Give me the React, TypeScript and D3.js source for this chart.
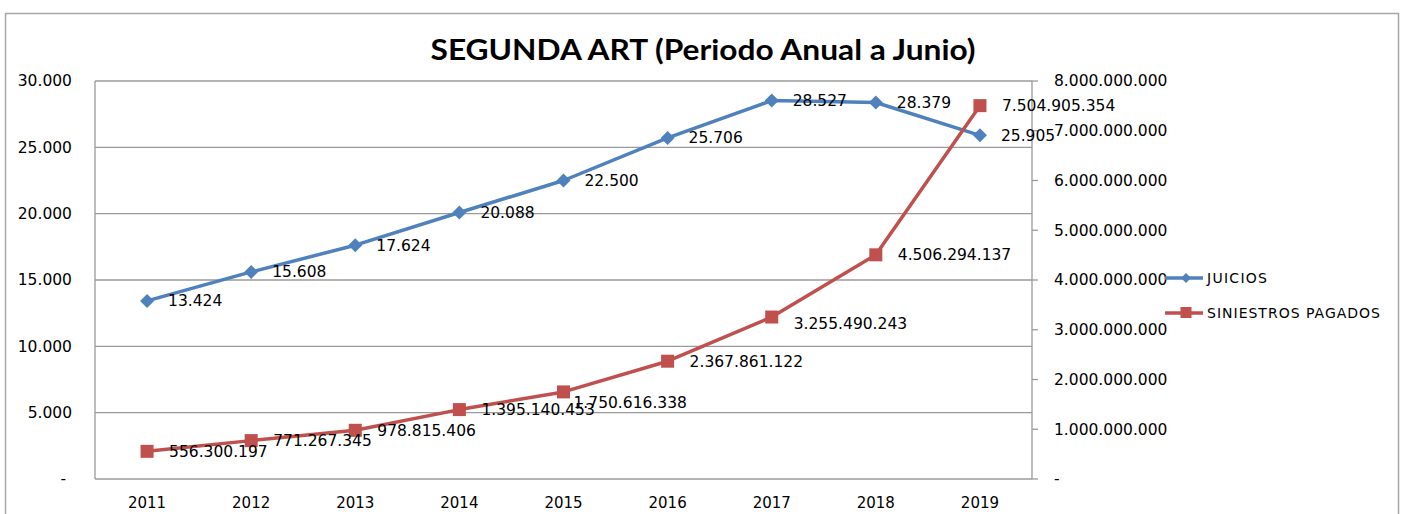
import * as d3 from "d3";

const YEARS = ["2011", "2012", "2013", "2014", "2015", "2016", "2017", "2018", "2019"];
const JUICIOS = [13424, 15608, 17624, 20088, 22500, 25706, 28527, 28379, 25905];
const SINIESTROS = [
  556300197, 771267345, 978815406, 1395140453, 1750616338, 2367861122, 3255490243, 4506294137,
  7504905354,
];
const LEFT_TICKS = [0, 5000, 10000, 15000, 20000, 25000, 30000];
const RIGHT_TICKS = [0, 1e9, 2e9, 3e9, 4e9, 5e9, 6e9, 7e9, 8e9];

const W = 1405;
const H = 514;
const FONT = "'DejaVu Sans', Verdana, sans-serif";
const BLUE = "#4F81BD";
const RED = "#C0504D";
const GRID = "#9a9a9a";
const FS = 15.5;

const mg = { l: 95, r: 1032, t: 81, b: 479 };

// excel movió algunas etiquetas para que no se pisen
const NUDGE_R: Record<string, [number, number]> = { "2015": [-12, 11], "2017": [0, 7] };

const fmt = (v: number) => (v === 0 ? "-" : d3.format(",")(v).replace(/,/g, "."));

export default function App() {
  const x = d3.scaleBand().domain(YEARS).range([mg.l, mg.r]);
  const cx = (yr: string) => (x(yr) ?? 0) + x.bandwidth() / 2;
  const yL = d3.scaleLinear().domain([0, 30000]).range([mg.b, mg.t]);
  const yR = d3.scaleLinear().domain([0, 8e9]).range([mg.b, mg.t]);

  const lineL = d3
    .line<number>()
    .x((_, i) => cx(YEARS[i]))
    .y((d) => yL(d));
  const lineR = d3
    .line<number>()
    .x((_, i) => cx(YEARS[i]))
    .y((d) => yR(d));

  const diamond = (px: number, py: number, s: number) =>
    `M${px},${py - s}L${px + s},${py}L${px},${py + s}L${px - s},${py}Z`;

  return (
    <svg
      width={W}
      height={H}
      style={{ position: "absolute", left: 0, top: 0, background: "#fff" }}
      fontFamily={FONT}
    >
      <rect x={0} y={0} width={W} height={H} fill="#fff" />
      <rect x={5.5} y={13.5} width={1393} height={520} fill="none" stroke="#a6a6a6" strokeWidth={1.5} />

      <text
        x={703}
        y={60}
        textAnchor="middle"
        fontFamily="Lato, 'Open Sans', sans-serif"
        fontWeight={700}
        fontSize={28}
        fill="#000"
        textLength={545}
        lengthAdjust="spacingAndGlyphs"
      >
        SEGUNDA ART (Periodo Anual a Junio)
      </text>

      {/* grilla */}
      {LEFT_TICKS.map((t) => (
        <line key={t} x1={mg.l} x2={mg.r} y1={yL(t)} y2={yL(t)} stroke={GRID} strokeWidth={1.3} />
      ))}
      <line x1={mg.l} x2={mg.l} y1={mg.t} y2={mg.b} stroke={GRID} strokeWidth={1.3} />
      <line x1={mg.r} x2={mg.r} y1={mg.t} y2={mg.b} stroke={GRID} strokeWidth={1.3} />
      {RIGHT_TICKS.map((t) => (
        <line key={t} x1={mg.r} x2={mg.r + 6} y1={yR(t)} y2={yR(t)} stroke={GRID} strokeWidth={1.3} />
      ))}

      {/* eje izquierdo */}
      {LEFT_TICKS.map((t) => (
        <text
          key={t}
          x={t === 0 ? 66 : 72}
          y={yL(t)}
          dy="0.35em"
          textAnchor="end"
          fontSize={FS}
          fill="#000"
        >
          {fmt(t)}
        </text>
      ))}
      {/* eje derecho */}
      {RIGHT_TICKS.map((t) => (
        <text key={t} x={1054} y={yR(t)} dy="0.35em" textAnchor="start" fontSize={FS} fill="#000">
          {fmt(t)}
        </text>
      ))}
      {/* años */}
      {YEARS.map((yr) => (
        <text key={yr} x={cx(yr)} y={503} dy="0.35em" textAnchor="middle" fontSize={15} fill="#000">
          {yr}
        </text>
      ))}

      {/* series */}
      <path d={lineL(JUICIOS) ?? ""} fill="none" stroke={BLUE} strokeWidth={3.5} strokeLinejoin="round" />
      {JUICIOS.map((v, i) => (
        <path key={i} d={diamond(cx(YEARS[i]), yL(v), 7)} fill={BLUE} />
      ))}
      <path d={lineR(SINIESTROS) ?? ""} fill="none" stroke={RED} strokeWidth={3.5} strokeLinejoin="round" />
      {SINIESTROS.map((v, i) => (
        <rect key={i} x={cx(YEARS[i]) - 6.5} y={yR(v) - 6.5} width={13} height={13} fill={RED} />
      ))}

      {/* etiquetas */}
      {JUICIOS.map((v, i) => (
        <text key={i} x={cx(YEARS[i]) + 21} y={yL(v)} dy="0.35em" fontSize={FS} fill="#000">
          {fmt(v)}
        </text>
      ))}
      {SINIESTROS.map((v, i) => {
        const [ndx, ndy] = NUDGE_R[YEARS[i]] ?? [0, 0];
        return (
          <text
            key={i}
            x={cx(YEARS[i]) + 22 + ndx}
            y={yR(v) + ndy}
            dy="0.35em"
            fontSize={FS}
            fill="#000"
          >
            {fmt(v)}
          </text>
        );
      })}

      {/* leyenda */}
      <line x1={1165} x2={1203} y1={278} y2={278} stroke={BLUE} strokeWidth={3.5} />
      <path d={diamond(1186, 278, 5)} fill={BLUE} />
      <text
        x={1207}
        y={278}
        dy="0.35em"
        fontSize={14}
        fill="#000"
        textLength={60}
        lengthAdjust="spacing"
      >
        JUICIOS
      </text>
      <line x1={1165} x2={1203} y1={313} y2={313} stroke={RED} strokeWidth={3.5} />
      <rect x={1180.5} y={307} width={11} height={11} fill={RED} />
      <text
        x={1207}
        y={313}
        dy="0.35em"
        fontSize={14}
        fill="#000"
        textLength={173}
        lengthAdjust="spacing"
      >
        SINIESTROS PAGADOS
      </text>
    </svg>
  );
}
